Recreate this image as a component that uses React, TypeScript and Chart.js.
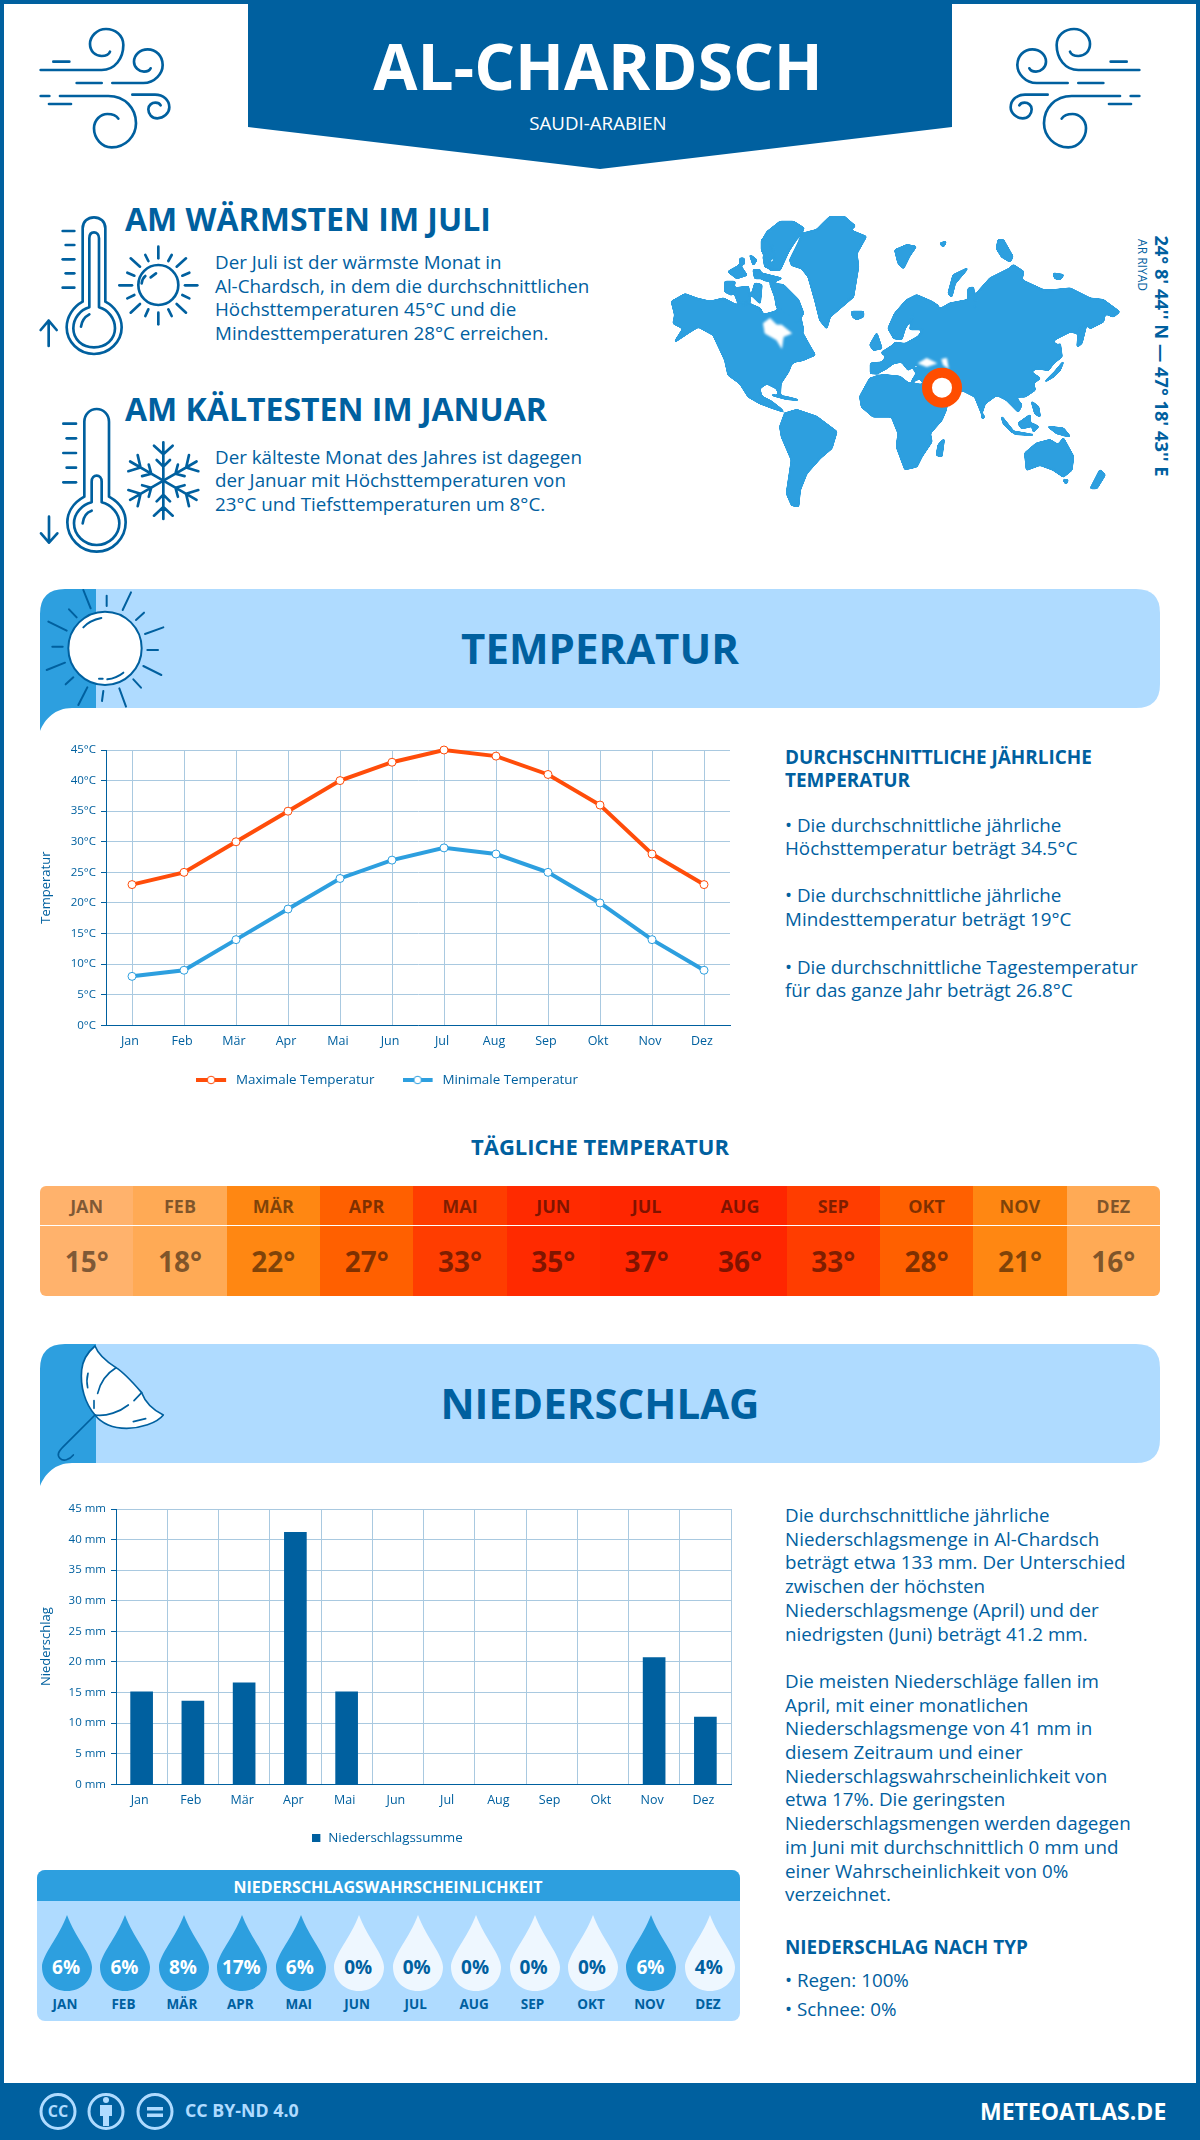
import React, { useEffect, useRef } from "react";
import { Chart, registerables } from "chart.js";

Chart.register(...registerables);

const FONT = '"Open Sans", sans-serif';
const DARK = "#00609f";
const MID = "#2d9fdf";
const LIGHT = "#afdbff";
const GRID = "#a9c9e0";
const ORANGE = "#ff4d0a";

const months = ["Jan", "Feb", "Mär", "Apr", "Mai", "Jun", "Jul", "Aug", "Sep", "Okt", "Nov", "Dez"];
const monthsUpper = ["JAN", "FEB", "MÄR", "APR", "MAI", "JUN", "JUL", "AUG", "SEP", "OKT", "NOV", "DEZ"];
const maxTemp = [23, 25, 30, 35, 40, 43, 45, 44, 41, 36, 28, 23];
const minTemp = [8, 9, 14, 19, 24, 27, 29, 28, 25, 20, 14, 9];
const dailyTemp = [15, 18, 22, 27, 33, 35, 37, 36, 33, 28, 21, 16];
const dailyColors = ["#ffb26c", "#ffaa55", "#ff8712", "#ff6000", "#ff3d00", "#ff2a00", "#ff2600", "#ff2600", "#ff3d00", "#ff6000", "#ff8712", "#ffaa55"];
const precipitation = [15.1, 13.6, 16.6, 41.2, 15.1, 0, 0, 0, 0, 0, 20.7, 11];
const precipChance = [6, 6, 8, 17, 6, 0, 0, 0, 0, 0, 6, 4];

const warmText = ["Der Juli ist der wärmste Monat in", "Al-Chardsch, in dem die durchschnittlichen", "Höchsttemperaturen 45°C und die", "Mindesttemperaturen 28°C erreichen."];
const coldText = ["Der kälteste Monat des Jahres ist dagegen", "der Januar mit Höchsttemperaturen von", "23°C und Tiefsttemperaturen um 8°C."];
const tempNotes: [string, number][] = [
  ["• Die durchschnittliche jährliche", 825],
  ["Höchsttemperatur beträgt 34.5°C", 848],
  ["• Die durchschnittliche jährliche", 895],
  ["Mindesttemperatur beträgt 19°C", 919],
  ["• Die durchschnittliche Tagestemperatur", 967],
  ["für das ganze Jahr beträgt 26.8°C", 990],
];
const precipNotes = [
  "Die durchschnittliche jährliche", "Niederschlagsmenge in Al-Chardsch", "beträgt etwa 133 mm. Der Unterschied", "zwischen der höchsten",
  "Niederschlagsmenge (April) und der", "niedrigsten (Juni) beträgt 41.2 mm.", "",
  "Die meisten Niederschläge fallen im", "April, mit einer monatlichen", "Niederschlagsmenge von 41 mm in", "diesem Zeitraum und einer",
  "Niederschlagswahrscheinlichkeit von", "etwa 17%. Die geringsten", "Niederschlagsmengen werden dagegen", "im Juni mit durchschnittlich 0 mm und",
  "einer Wahrscheinlichkeit von 0%", "verzeichnet.",
];

const landPaths = [
  "M35,305 L75,282 L110,295 L150,305 L190,295 L235,318 L270,312 L300,325 L310,345 L345,335 L370,320 L390,345 L420,345 L430,390 L425,395 L450,440 L465,465 L430,480 L405,485 L395,490 L385,515 L362,550 L360,590 L350,565 L320,550 L298,565 L305,590 L335,605 L360,625 L370,635 L340,625 L300,610 L265,590 L240,550 L205,525 L195,480 L160,405 L115,380 L90,395 L45,425 L70,385 L40,370 L45,345 Z",
  "M322,95 L360,65 L400,65 L432,85 L420,100 L385,155 L360,210 L330,210 L345,175 L340,140 L305,125 Z",
  "M330,250 L370,255 L415,300 L430,340 L410,370 L385,345 L350,320 L345,290 Z",
  "M205,215 L240,195 L260,225 L230,235 Z M195,245 L225,245 L215,285 L195,275 Z M218,265 L265,260 L270,305 L235,310 Z M285,250 L305,255 L300,310 L275,285 Z M280,210 L300,210 L305,235 L285,235 Z M305,220 L365,235 L340,245 L310,240 Z M270,165 L290,180 L280,195 Z M240,175 L252,175 L252,193 L240,193 Z M310,170 L330,170 L330,205 L315,200 Z M305,120 L325,125 L345,170 L320,180 L305,150 Z",
  "M390,180 L430,100 L470,90 L490,70 L510,50 L550,48 L585,78 L570,90 L618,110 L590,160 L595,200 L580,290 L545,320 L510,350 L500,385 L480,360 L465,300 L445,230 L425,205 L395,195 Z",
  "M575,335 L610,335 L610,350 L590,358 L578,350 Z",
  "M705,150 L740,135 L768,140 L750,165 L730,205 L715,190 Z M840,130 L858,125 L850,140 Z",
  "M1015,120 L1030,120 L1058,170 L1050,185 L1025,170 L1010,145 Z M865,280 L880,225 L922,205 L915,215 L885,250 L875,290 Z",
  "M632,520 L632,490 L665,487 L680,470 L665,458 L700,435 L705,428 L735,432 L775,410 L790,388 L750,388 L762,340 L735,385 L725,418 L702,415 L685,385 L705,340 L740,300 L770,285 L815,305 L835,318 L830,328 L850,322 L870,310 L925,300 L925,265 L940,262 L945,325 L950,280 L990,235 L1050,205 L1060,195 L1090,215 L1085,240 L1150,270 L1185,270 L1230,265 L1290,295 L1330,300 L1378,335 L1360,350 L1335,340 L1330,365 L1290,385 L1285,375 L1270,370 L1255,400 L1230,395 L1190,415 L1175,425 L1200,440 L1205,470 L1180,490 L1165,510 L1130,505 L1110,515 L1140,535 L1120,550 L1125,570 L1095,590 L1065,590 L1085,615 L1075,635 L1040,600 L1010,585 L975,610 L965,640 L945,590 L905,570 L860,620 L830,620 L800,560 L780,535 L755,545 L770,520 L760,505 L780,505 L770,490 L745,510 L725,485 L700,490 L680,505 L650,520 Z",
  "M600,590 L630,535 L670,525 L720,530 L745,550 L790,555 L805,590 L830,625 L860,625 L845,660 L810,700 L815,725 L785,770 L770,800 L735,808 L710,740 L715,700 L695,650 L640,650 L605,620 Z",
  "M852,718 L845,770 L830,765 L835,735 Z",
  "M360,680 L375,640 L410,630 L470,650 L530,695 L515,745 L480,775 L440,820 L420,870 L415,920 L395,915 L380,880 L395,780 L365,710 Z",
  "M1095,760 L1130,730 L1170,720 L1195,735 L1210,715 L1240,770 L1235,810 L1210,830 L1180,810 L1140,795 L1100,810 Z M1210,840 L1224,840 L1218,852 Z",
  "M1320,810 L1335,825 L1310,865 L1292,865 Z",
  "M1155,545 L1185,515 L1210,485 L1200,510 L1180,530 Z M1200,430 L1205,470 L1195,450 Z M1255,400 L1280,370 L1265,430 L1252,440 Z M1180,220 L1210,225 L1200,238 L1185,235 Z",
  "M630,435 L650,400 L665,445 L640,450 Z",
  "M1025,650 L1065,700 L1055,695 L1030,670 Z M1065,695 L1120,705 L1065,702 Z M1075,670 L1110,645 L1110,680 L1085,685 Z M1115,605 L1135,620 L1140,650 L1125,640 Z M1165,680 L1210,685 L1230,710 L1190,700 Z M1115,670 L1135,680 L1120,695 Z",
  "M335,585 L375,590 L415,600 L380,597 Z M965,640 L973,650 L967,656 Z",
];
const waterPaths = [
  "M310,370 L330,355 L350,375 L365,375 L395,400 L370,410 L365,445 L350,420 L315,400 Z",
  "M775,490 L800,475 L830,490 L800,500 Z M845,478 L860,475 L865,505 L850,495 Z",
];

const WIND = [
  "M32,150 H215 C255,150 280,115 280,75 C280,45 255,27 228,27 C200,27 180,50 180,72 C180,95 197,108 215,108 C228,108 238,102 240,95",
  "M70,125 H118",
  "M247,189 H340 C375,189 398,160 398,135 C398,108 378,88 353,88 C330,88 312,105 312,125 C312,142 327,155 342,155 C352,155 360,150 362,145",
  "M140,189 H215",
  "M32,228 H58",
  "M90,228 H235 C285,228 318,265 318,310 C318,350 285,382 245,382 C215,382 192,355 192,325 C192,300 212,282 232,282 C248,282 260,288 265,296",
  "M57,252 H123",
  "M307,224 H375 C400,224 418,240 418,262 C418,280 400,295 382,295 C365,295 355,282 355,268 C355,255 366,248 376,248 C384,248 390,252 392,256",
];
const THERMO_WARM = [
  "M188,335 V115 C188,95 203,82 222,82 C241,82 256,95 256,115 V335 C285,350 305,380 305,412 C305,455 268,492 222,492 C176,492 140,455 140,412 C140,380 160,350 188,335 Z",
  "M208,352 V145 C208,133 214,127 222,127 C230,127 237,133 237,145 V352 C265,360 285,385 285,415 C285,448 258,472 222,472 C186,472 160,448 160,415 C160,385 180,360 208,352 Z",
  "M183,410 C185,395 195,380 208,373",
  "M128,123 H163", "M137,165 H163", "M128,208 H163", "M137,250 H163", "M128,293 H163",
  "M86,468 V392 M62,420 L86,392 L110,420",
  "M365,280 C366,272 370,263 376,258", "M392,262 L408,250",
  "M415,170 V205", "M415,368 V403", "M298,286 H336", "M495,286 H532",
  "M332,205 L360,230", "M498,205 L470,230", "M332,368 L360,342", "M498,368 L470,342",
  "M376,195 L385,213", "M455,195 L445,213", "M322,248 L343,257", "M508,248 L487,257",
  "M322,325 L343,315", "M508,325 L487,315", "M376,378 L385,358", "M455,378 L445,358",
];
const THERMO_COLD = [
  "M163,305 V80 C163,58 180,42 200,42 C220,42 237,58 237,80 V305 C268,322 287,350 287,382 C287,430 248,470 200,470 C152,470 112,430 112,382 C112,350 132,322 163,305 Z",
  "M185,322 V260 C185,248 192,242 200,242 C208,242 215,248 215,260 V322 C245,330 268,355 268,385 C268,420 238,450 200,450 C162,450 132,420 132,385 C132,355 155,330 185,322 Z",
  "M158,385 C160,365 170,352 185,347",
  "M100,86 H138", "M110,130 H138", "M100,174 H138", "M110,218 H138", "M100,262 H138",
  "M57,365 V443 M33,415 L57,443 L82,415",
];
const SUN_RAYS = [
  "M160,30 L182,85", "M230,47 V78", "M303,37 L278,90", "M342,98 L318,120", "M400,142 L345,162", "M352,210 H384",
  "M340,258 L394,285", "M310,298 L333,323", "M268,325 L288,380", "M220,333 L216,363", "M172,322 L145,375", "M130,292 L107,313",
  "M105,248 L50,270", "M98,200 H67", "M110,152 L55,125", "M140,112 L117,88",
  "M160,142 C175,125 195,118 214,114", "M232,298 C250,296 265,290 280,278", "M207,296 H218",
];
const UMBRELLA_DETAILS = [
  "M258,83 C230,100 210,130 203,160", "M192,182 L192,205", "M195,225 C230,230 270,215 295,195", "M312,182 L335,158",
  "M174,100 C170,115 170,130 173,143", "M310,245 L347,236", "M195,225 L100,320 C85,335 80,345 90,355 C100,365 118,360 130,345",
];

function T({ x, y, size, weight = 400, color = DARK, center = false, spacing = 0, children }: any) {
  return (
    <div style={{
      position: "absolute", left: x, top: y, transform: `translate(${center ? "-50%" : "0"},-50%)`,
      fontFamily: FONT, fontSize: size, fontWeight: weight, color, letterSpacing: spacing, whiteSpace: "pre", lineHeight: 1,
    }}>{children}</div>
  );
}

function Box({ x, y, w, h, c, r }: any) {
  return <div style={{ position: "absolute", left: x, top: y, width: w, height: h, background: c, borderRadius: r }} />;
}

function Icon({ x, y, w, h, vb, sw, paths, flip = false, children }: any) {
  return (
    <svg width={w} height={h} viewBox={vb} style={{ position: "absolute", left: x, top: y, transform: flip ? "scaleX(-1)" : undefined }}
      fill="none" stroke={DARK} strokeWidth={sw} strokeLinecap="round" strokeLinejoin="round">
      {children}
      {paths && paths.map((d: string, i: number) => <path key={i} d={d} />)}
    </svg>
  );
}

function Band({ top }: { top: number }) {
  return (
    <svg width={1200} height={160} viewBox="0 0 1200 160" style={{ position: "absolute", left: 0, top }}>
      <path d="M96,0 H1136 Q1160,0 1160,24 V95 Q1160,119 1136,119 H96 Z" fill={LIGHT} />
      <path d="M40,142 V25 Q40,0 65,0 H96 V119 H72 C55,119 45,130 40,142 Z" fill={MID} />
    </svg>
  );
}

function makeSwatch(w: number, h: number, draw: (c: CanvasRenderingContext2D) => void) {
  const c = document.createElement("canvas");
  c.width = w;
  c.height = h;
  draw(c.getContext("2d") as CanvasRenderingContext2D);
  return c;
}

function lineSwatch(color: string) {
  return makeSwatch(33, 10, (c) => {
    c.fillStyle = color;
    c.fillRect(0, 3, 30, 4);
    c.beginPath();
    c.arc(15, 5, 3.8, 0, Math.PI * 2);
    c.fillStyle = "#fff";
    c.fill();
    c.strokeStyle = color;
    c.lineWidth = 1;
    c.stroke();
  });
}

function baseScales(yWidth: number, xHeight: number, title: string, fmt: (v: any) => string, gridOffset: boolean) {
  return {
    x: {
      offset: true,
      afterFit: (s: any) => { s.height = xHeight; },
      grid: { color: GRID, offset: gridOffset, drawTicks: false, lineWidth: 1 },
      border: { color: DARK, width: 1 },
      ticks: { color: DARK, font: { size: 12.5, family: FONT }, padding: 9, labelOffset: -2, maxRotation: 0, autoSkip: false },
    },
    y: {
      min: 0, max: 45,
      afterFit: (s: any) => { s.width = yWidth; },
      grid: { color: GRID, tickColor: DARK, tickLength: 5, lineWidth: 1 },
      border: { color: DARK, width: 1 },
      ticks: { stepSize: 5, color: DARK, font: { size: 11.5, family: FONT }, padding: 5, callback: fmt },
      title: { display: true, text: title, color: DARK, font: { size: 13, family: FONT }, padding: { top: 8, bottom: 0 } },
    },
  };
}

// Moves the legend box after layout: up clear of the x labels' box, and across to the reference's centre.
const moveLegend = (dx: number, dy: number) => ({
  id: "moveLegend",
  afterLayout(chart: any) {
    chart.legend.top += dy;
    chart.legend.bottom += dy;
    chart.legend.left += dx;
    chart.legend.right += dx;
  },
});

export default function App() {
  const tempRef = useRef<HTMLCanvasElement>(null);
  const rainRef = useRef<HTMLCanvasElement>(null);

  useEffect(() => {
    const lineSwatches = [lineSwatch(ORANGE), lineSwatch(MID)];
    const barSwatch = makeSwatch(9, 8, (c) => { c.fillStyle = DARK; c.fillRect(0, 0, 8, 8); });

    const temp = new Chart(tempRef.current as HTMLCanvasElement, {
      type: "line",
      plugins: [moveLegend(7, -10.3)],
      data: {
        labels: months,
        datasets: [
          { label: "Maximale Temperatur", data: maxTemp, clip: false, borderColor: ORANGE, backgroundColor: "#fff", borderWidth: 4, pointRadius: 4, pointBorderWidth: 1, pointBackgroundColor: "#fff", pointBorderColor: ORANGE, tension: 0 },
          { label: "Minimale Temperatur", data: minTemp, clip: false, borderColor: MID, backgroundColor: "#fff", borderWidth: 4, pointRadius: 4, pointBorderWidth: 1, pointBackgroundColor: "#fff", pointBorderColor: MID, tension: 0 },
        ],
      },
      options: {
        responsive: false, animation: false,
        layout: { padding: { top: 15, right: 43, left: 0, bottom: 0 } },
        scales: baseScales(76, 30.3, "Temperatur", (v) => `${v}°C`, false) as any,
        plugins: {
          tooltip: { enabled: false },
          legend: {
            position: "bottom",
            labels: {
              usePointStyle: true, pointStyleWidth: 33.3, padding: 28, color: DARK, font: { size: 13.4, family: FONT },
              generateLabels: (chart: any) => Chart.defaults.plugins.legend.labels.generateLabels(chart).map((l: any, i: number) => ({ ...l, pointStyle: lineSwatches[i] })),
            },
          },
        },
      },
    });

    const rain = new Chart(rainRef.current as HTMLCanvasElement, {
      type: "bar",
      plugins: [moveLegend(7, 0)],
      data: {
        labels: months,
        datasets: [{ label: "Niederschlagssumme", data: precipitation, backgroundColor: DARK, barThickness: 22 }],
      },
      options: {
        responsive: false, animation: false,
        layout: { padding: { top: 14, right: 24, left: 0, bottom: 0 } },
        scales: baseScales(86, 37.3, "Niederschlag", (v) => `${v} mm`, true) as any,
        plugins: {
          tooltip: { enabled: false },
          legend: {
            position: "bottom",
            labels: {
              usePointStyle: true, pointStyleWidth: 9.3, padding: 10, color: DARK, font: { size: 13.4, family: FONT },
              generateLabels: (chart: any) => Chart.defaults.plugins.legend.labels.generateLabels(chart).map((l: any) => ({ ...l, pointStyle: barSwatch })),
            },
          },
        },
      },
    });

    return () => { temp.destroy(); rain.destroy(); };
  }, []);

  return (
    <div style={{ position: "absolute", left: 0, top: 0, width: 1200, height: 2140, background: "#fff", overflow: "hidden" }}>
      <Box x={0} y={0} w={4} h={2140} c={DARK} />
      <Box x={1196} y={0} w={4} h={2140} c={DARK} />
      <Box x={0} y={0} w={1200} h={4} c={DARK} />
      <Box x={0} y={2083} w={1200} h={57} c={DARK} />

      <svg width={1200} height={172} style={{ position: "absolute", left: 0, top: 0 }}>
        <path d="M248,0 H952 V127 L600,169 L248,127 Z" fill={DARK} />
      </svg>
      <T x={598} y={66} size={64} weight={700} color="#fff" center>AL-CHARDSCH</T>
      <T x={598} y={123} size={18.7} color="#fff" center>SAUDI-ARABIEN</T>
      <Icon x={30} y={20} w={150} h={135} vb="0 0 450 405" sw={8} paths={WIND} />
      <Icon x={1000} y={20} w={150} h={135} vb="0 0 450 405" sw={8} paths={WIND} flip />

      <T x={125} y={219} size={32} weight={700}>AM WÄRMSTEN IM JULI</T>
      {warmText.map((s, i) => <T key={i} x={215} y={262 + i * 23.7} size={18.8}>{s}</T>)}
      <T x={125} y={409} size={32} weight={700}>AM KÄLTESTEN IM JANUAR</T>
      {coldText.map((s, i) => <T key={i} x={215} y={457 + i * 23.4} size={18.8}>{s}</T>)}
      <Icon x={20} y={190} w={200} h={180} vb="0 0 600 540" sw={8} paths={THERMO_WARM}>
        <circle cx={415} cy={285} r={60} />
      </Icon>
      <Icon x={30} y={395} w={180} h={170} vb="0 0 540 510" sw={8} paths={THERMO_COLD}>
        {[0, 60, 120, 180, 240, 300].map((a) => (
          <g key={a} transform={`rotate(${a} 400 257)`}>
            <path d="M400,257 V142 M372,152 L400,178 L428,152 M380,195 L400,215 L420,195" />
          </g>
        ))}
      </Icon>

      <svg width={520} height={330} viewBox="0 0 1560 990" style={{ position: "absolute", left: 660, top: 200 }}>
        <defs>
          <filter id="soft" x="0" y="0" width="100%" height="100%" colorInterpolationFilters="sRGB">
            <feGaussianBlur stdDeviation="3" />
            <feComponentTransfer>
              <feFuncA type="linear" slope="8" intercept="-2.4" />
            </feComponentTransfer>
          </filter>
        </defs>
        <g filter="url(#soft)">
          {landPaths.map((d, i) => <path key={i} d={d} fill={MID} stroke={MID} strokeWidth={4} strokeLinejoin="round" />)}
          {waterPaths.map((d, i) => <path key={i} d={d} fill="#fff" stroke="#fff" strokeWidth={2} strokeLinejoin="round" />)}
        </g>
        <circle cx={846} cy={563} r={45} fill="#fff" stroke="#ff4d00" strokeWidth={30} />
      </svg>
      <div style={{ position: "absolute", left: 1162, top: 356, transform: "translate(-50%,-50%) rotate(90deg)", fontFamily: FONT, fontSize: 18.3, fontWeight: 700, color: DARK, whiteSpace: "pre", lineHeight: 1 }}>{"24° 8' 44'' N — 47° 18' 43'' E"}</div>
      <div style={{ position: "absolute", left: 1142, top: 265, transform: "translate(-50%,-50%) rotate(90deg)", fontFamily: FONT, fontSize: 12, fontWeight: 400, color: DARK, whiteSpace: "pre", lineHeight: 1 }}>AR RIYAD</div>

      <Band top={589} />
      <Icon x={30} y={580} w={150} h={160} vb="0 0 450 480" sw={6} paths={SUN_RAYS}>
        <circle cx={225} cy={205} r={110} fill="#fff" />
      </Icon>
      <T x={600} y={648} size={42} weight={700} center>TEMPERATUR</T>

      <canvas ref={tempRef} width={743} height={372} style={{ position: "absolute", left: 30, top: 735 }} />

      <T x={785} y={757} size={18.9} weight={700}>DURCHSCHNITTLICHE JÄHRLICHE</T>
      <T x={785} y={780} size={18.9} weight={700}>TEMPERATUR</T>
      {tempNotes.map(([s, y], i) => <T key={i} x={785} y={y} size={18.8}>{s}</T>)}

      <T x={600} y={1146} size={22} weight={700} center>TÄGLICHE TEMPERATUR</T>
      <div style={{ position: "absolute", left: 40, top: 1186, width: 1120, height: 110, borderRadius: 6, overflow: "hidden", display: "flex" }}>
        {dailyTemp.map((v, i) => (
          <div key={i} style={{ position: "relative", flex: 1, background: dailyColors[i] }}>
            <T x="50%" y={20} size={18} weight={700} color="rgba(0,0,0,0.5)" center>{monthsUpper[i]}</T>
            <T x="50%" y={75} size={28} weight={700} color="rgba(0,0,0,0.5)" center>{v}°</T>
          </div>
        ))}
        <div style={{ position: "absolute", left: 0, top: 38.5, width: 1120, height: 1.5, background: "#fff" }} />
      </div>

      <Band top={1344} />
      <Icon x={30} y={1340} w={150} h={150} vb="0 0 450 450" sw={5} paths={UMBRELLA_DETAILS}>
        <path fill="#fff" d="M195,225 C165,190 150,140 155,90 C158,60 175,35 195,18 C205,45 230,65 258,83 C285,100 315,135 335,158 C345,185 370,210 400,225 C380,250 330,265 290,265 C250,265 215,250 195,225 Z" />
      </Icon>
      <T x={600} y={1403} size={42} weight={700} center>NIEDERSCHLAG</T>

      <canvas ref={rainRef} width={725} height={360} style={{ position: "absolute", left: 30, top: 1495 }} />

      {precipNotes.map((s, i) => <T key={i} x={785} y={1515 + i * 23.7} size={18.8}>{s}</T>)}
      <T x={785} y={1947} size={18.9} weight={700}>NIEDERSCHLAG NACH TYP</T>
      <T x={785} y={1980} size={18.8}>• Regen: 100%</T>
      <T x={785} y={2009} size={18.8}>• Schnee: 0%</T>

      <div style={{ position: "absolute", left: 37, top: 1870, width: 703, height: 151, borderRadius: 8, overflow: "hidden", background: LIGHT }}>
        <Box x={0} y={0} w={703} h={31} c={MID} />
      </div>
      <T x={388} y={1887} size={16} weight={700} color="#fff" center>NIEDERSCHLAGSWAHRSCHEINLICHKEIT</T>
      {precipChance.map((v, i) => {
        const x = 67 + i * 58.44;
        const wet = v >= 5;
        return (
          <React.Fragment key={i}>
            <svg width={54} height={80} viewBox="-27 -2 54 80" style={{ position: "absolute", left: x - 27, top: 1913 }}>
              <path d="M0,0 C8,22 25,40 25,52 C25,66 14,76 0,76 C-14,76 -25,66 -25,52 C-25,40 -8,22 0,0 Z" fill={wet ? MID : "#eef7ff"} />
            </svg>
            <T x={x - 1} y={1967} size={19} weight={700} color={wet ? "#fff" : DARK} center>{v}%</T>
            <T x={x - 2} y={2005} size={13.5} weight={700} center>{monthsUpper[i]}</T>
          </React.Fragment>
        );
      })}

      <svg width={170} height={57} style={{ position: "absolute", left: 30, top: 2083 }}>
        {[28, 76, 125].map((cx) => <circle key={cx} cx={cx} cy={28.5} r={17} fill="none" stroke={LIGHT} strokeWidth={3} />)}
        <circle cx={76} cy={17} r={3} fill={LIGHT} />
        <path d="M70,22 H82 V33 H79 V43 H73 V33 H70 Z" fill={LIGHT} />
        <path d="M117,24 H133 V27.5 H117 Z M117,30.5 H133 V34 H117 Z" fill={LIGHT} />
      </svg>
      <T x={58} y={2111} size={16} weight={700} color={LIGHT} center>CC</T>
      <T x={185} y={2111} size={17.8} weight={700} color={LIGHT}>CC BY-ND 4.0</T>
      <T x={980} y={2111} size={23} weight={700} color="#fff">METEOATLAS.DE</T>
    </div>
  );
}
